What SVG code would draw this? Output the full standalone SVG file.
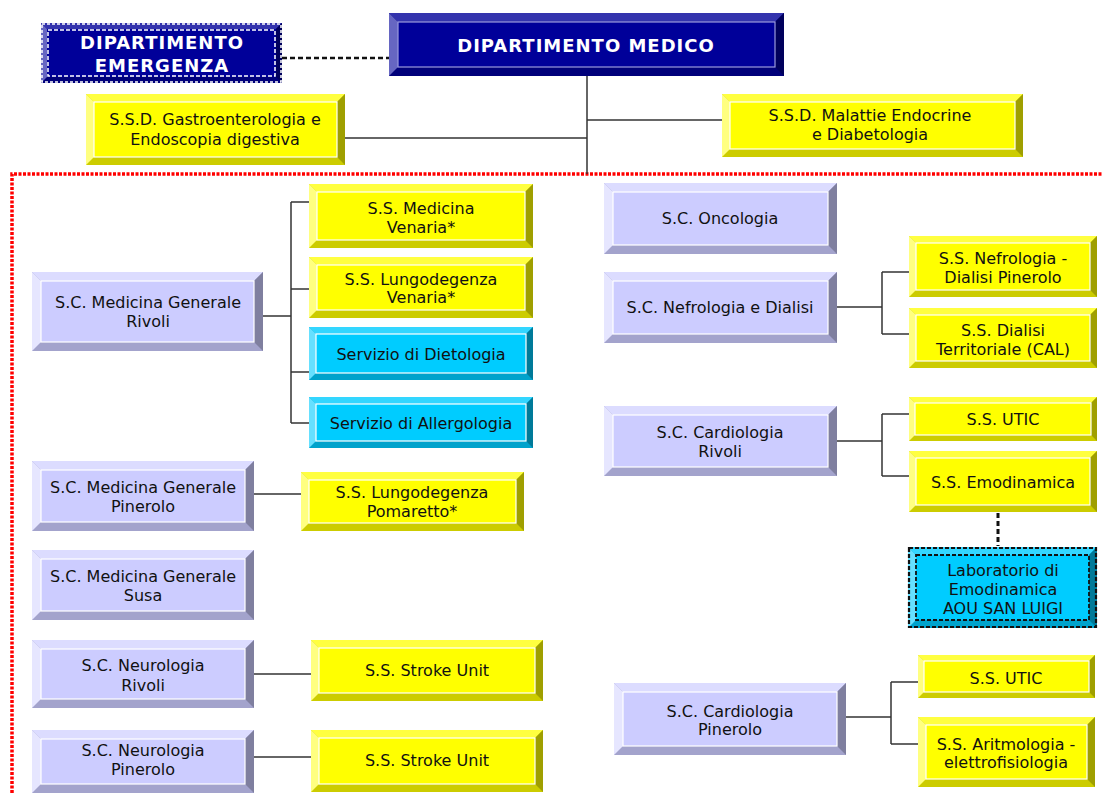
<svg xmlns="http://www.w3.org/2000/svg" width="1103" height="793" viewBox="0 0 1103 793">
<style>
text{font-family:"DejaVu Sans","Verdana",sans-serif;font-size:16px;fill:#111;text-anchor:middle}
text.hd{font-weight:bold;font-size:18px;fill:#fff;letter-spacing:1px}
.fc{stroke:#fff;stroke-width:1.2}
.lav .bo{fill:#A3A3CC}.lav .tp{fill:#DCDCFF}.lav .lf{fill:#E6E6FF}.lav .rt{fill:#7F7F9F}.lav .fc{fill:#CCCCFF}
.yel .bo{fill:#CCCC00}.yel .tp{fill:#FFFF40}.yel .lf{fill:#FFFF80}.yel .rt{fill:#9F9F00}.yel .fc{fill:#FFFF00}
.cya .bo{fill:#00A3CC}.cya .tp{fill:#33D6FF}.cya .lf{fill:#66E0FF}.cya .rt{fill:#007A99}.cya .fc{fill:#00CCFF}
.blu .bo{fill:#00007A}.blu .tp{fill:#3333AD}.blu .lf{fill:#6666C2}.blu .rt{fill:#00005C}.blu .fc{fill:#000099}
.ln{stroke:#333;stroke-width:1.5;fill:none}
.dash{stroke:#111;stroke-width:2.5;stroke-dasharray:5,3;fill:none}
.red{stroke:#FF0000;stroke-width:3.5;stroke-dasharray:3,1.5;fill:none}
</style>

<g id="connectors">
<polyline class="red" points="12,793 12,174 1103,174"/>
<line class="dash" x1="282" y1="58" x2="389" y2="58"/>
<line class="ln" x1="587" y1="76" x2="587" y2="174"/>
<line class="ln" x1="345" y1="138" x2="587" y2="138"/>
<line class="ln" x1="587" y1="120" x2="722" y2="120"/>
<line class="ln" x1="263" y1="316" x2="291" y2="316"/>
<line class="ln" x1="291" y1="202" x2="291" y2="423"/>
<line class="ln" x1="291" y1="202" x2="309" y2="202"/>
<line class="ln" x1="291" y1="289" x2="309" y2="289"/>
<line class="ln" x1="291" y1="372" x2="309" y2="372"/>
<line class="ln" x1="291" y1="423" x2="309" y2="423"/>
<line class="ln" x1="254" y1="494" x2="301" y2="494"/>
<line class="ln" x1="254" y1="674" x2="311" y2="674"/>
<line class="ln" x1="254" y1="757" x2="311" y2="757"/>
<line class="ln" x1="837" y1="307" x2="882" y2="307"/>
<line class="ln" x1="882" y1="272" x2="882" y2="334"/>
<line class="ln" x1="882" y1="272" x2="909" y2="272"/>
<line class="ln" x1="882" y1="334" x2="909" y2="334"/>
<line class="ln" x1="837" y1="441" x2="882" y2="441"/>
<line class="ln" x1="882" y1="414" x2="882" y2="476"/>
<line class="ln" x1="882" y1="414" x2="909" y2="414"/>
<line class="ln" x1="882" y1="476" x2="909" y2="476"/>
<line class="dash" x1="998" y1="513" x2="998" y2="546" style="stroke-width:3"/>
<line class="ln" x1="846" y1="717" x2="891" y2="717"/>
<line class="ln" x1="891" y1="682" x2="891" y2="744"/>
<line class="ln" x1="891" y1="682" x2="918" y2="682"/>
<line class="ln" x1="891" y1="744" x2="918" y2="744"/>
</g>

<g id="dip-emergenza" class="blu">
<rect class="bo" x="41" y="23" width="241" height="60"/>
<polygon class="tp" points="41,23 282,23 276,29 47,29"/>
<polygon class="lf" points="41,23 47,29 47,77 41,83"/>
<polygon class="rt" points="282,23 282,83 276,77 276,29"/>
<rect x="47" y="29" width="229" height="48" fill="#000099"/>
<rect x="42" y="24" width="239" height="58" fill="none" stroke="#fff" stroke-width="1.5" stroke-dasharray="3,2"/>
<rect x="48" y="30" width="227" height="46" fill="none" stroke="#fff" stroke-width="1.5" stroke-dasharray="4,2"/>
<text class="hd" x="162" y="49">DIPARTIMENTO</text>
<text class="hd" x="162" y="72">EMERGENZA</text>
</g>

<g id="dip-medico" class="blu">
<rect class="bo" x="389" y="13" width="395" height="63"/>
<polygon class="tp" points="389,13 784,13 775,22 398,22"/>
<polygon class="lf" points="389,13 398,22 398,67 389,76"/>
<polygon class="rt" points="784,13 784,76 775,67 775,22"/>
<rect class="fc" x="398" y="22" width="377" height="45" style="stroke:#9999dd"/>
<text class="hd" x="586" y="52">DIPARTIMENTO MEDICO</text>
</g>

<g id="gastro" class="yel">
<rect class="bo" x="86" y="94" width="259" height="71"/>
<polygon class="tp" points="86,94 345,94 337,102 94,102"/>
<polygon class="lf" points="86,94 94,102 94,157 86,165"/>
<polygon class="rt" points="345,94 345,165 337,157 337,102"/>
<rect class="fc" x="94" y="102" width="243" height="55"/>
<text x="215" y="125">S.S.D. Gastroenterologia e</text>
<text x="215" y="145">Endoscopia digestiva</text>
</g>

<g id="malattie" class="yel">
<rect class="bo" x="722" y="94" width="301" height="63"/>
<polygon class="tp" points="722,94 1023,94 1015,102 730,102"/>
<polygon class="lf" points="722,94 730,102 730,149 722,157"/>
<polygon class="rt" points="1023,94 1023,157 1015,149 1015,102"/>
<rect class="fc" x="730" y="102" width="285" height="47"/>
<text x="870" y="121">S.S.D. Malattie Endocrine</text>
<text x="870" y="140">e Diabetologia</text>
</g>

<g id="med-venaria" class="yel">
<rect class="bo" x="309" y="184" width="224" height="64"/>
<polygon class="tp" points="309,184 533,184 525,192 317,192"/>
<polygon class="lf" points="309,184 317,192 317,240 309,248"/>
<polygon class="rt" points="533,184 533,248 525,240 525,192"/>
<rect class="fc" x="317" y="192" width="208" height="48"/>
<text x="421" y="214">S.S. Medicina</text>
<text x="421" y="233">Venaria*</text>
</g>

<g id="lung-venaria" class="yel">
<rect class="bo" x="309" y="257" width="224" height="61"/>
<polygon class="tp" points="309,257 533,257 525,265 317,265"/>
<polygon class="lf" points="309,257 317,265 317,310 309,318"/>
<polygon class="rt" points="533,257 533,318 525,310 525,265"/>
<rect class="fc" x="317" y="265" width="208" height="45"/>
<text x="421" y="285">S.S. Lungodegenza</text>
<text x="421" y="303">Venaria*</text>
</g>

<g id="dietologia" class="cya">
<rect class="bo" x="309" y="327" width="224" height="53"/>
<polygon class="tp" points="309,327 533,327 526,334 316,334"/>
<polygon class="lf" points="309,327 316,334 316,373 309,380"/>
<polygon class="rt" points="533,327 533,380 526,373 526,334"/>
<rect class="fc" x="316" y="334" width="210" height="39"/>
<text x="421" y="360">Servizio di Dietologia</text>
</g>

<g id="allergologia" class="cya">
<rect class="bo" x="309" y="397" width="224" height="51"/>
<polygon class="tp" points="309,397 533,397 526,404 316,404"/>
<polygon class="lf" points="309,397 316,404 316,441 309,448"/>
<polygon class="rt" points="533,397 533,448 526,441 526,404"/>
<rect class="fc" x="316" y="404" width="210" height="37"/>
<text x="421" y="429">Servizio di Allergologia</text>
</g>

<g id="medgen-rivoli" class="lav">
<rect class="bo" x="32" y="272" width="231" height="79"/>
<polygon class="tp" points="32,272 263,272 254,281 41,281"/>
<polygon class="lf" points="32,272 41,281 41,342 32,351"/>
<polygon class="rt" points="263,272 263,351 254,342 254,281"/>
<rect class="fc" x="41" y="281" width="213" height="61"/>
<text x="148" y="308">S.C. Medicina Generale</text>
<text x="148" y="327">Rivoli</text>
</g>

<g id="medgen-pinerolo" class="lav">
<rect class="bo" x="32" y="461" width="222" height="70"/>
<polygon class="tp" points="32,461 254,461 245,470 41,470"/>
<polygon class="lf" points="32,461 41,470 41,522 32,531"/>
<polygon class="rt" points="254,461 254,531 245,522 245,470"/>
<rect class="fc" x="41" y="470" width="204" height="52"/>
<text x="143" y="493">S.C. Medicina Generale</text>
<text x="143" y="512">Pinerolo</text>
</g>

<g id="pomaretto" class="yel">
<rect class="bo" x="301" y="472" width="223" height="59"/>
<polygon class="tp" points="301,472 524,472 516,480 309,480"/>
<polygon class="lf" points="301,472 309,480 309,523 301,531"/>
<polygon class="rt" points="524,472 524,531 516,523 516,480"/>
<rect class="fc" x="309" y="480" width="207" height="43"/>
<text x="412" y="498">S.S. Lungodegenza</text>
<text x="412" y="517">Pomaretto*</text>
</g>

<g id="medgen-susa" class="lav">
<rect class="bo" x="32" y="550" width="222" height="70"/>
<polygon class="tp" points="32,550 254,550 245,559 41,559"/>
<polygon class="lf" points="32,550 41,559 41,611 32,620"/>
<polygon class="rt" points="254,550 254,620 245,611 245,559"/>
<rect class="fc" x="41" y="559" width="204" height="52"/>
<text x="143" y="582">S.C. Medicina Generale</text>
<text x="143" y="601">Susa</text>
</g>

<g id="neuro-rivoli" class="lav">
<rect class="bo" x="32" y="640" width="222" height="68"/>
<polygon class="tp" points="32,640 254,640 245,649 41,649"/>
<polygon class="lf" points="32,640 41,649 41,699 32,708"/>
<polygon class="rt" points="254,640 254,708 245,699 245,649"/>
<rect class="fc" x="41" y="649" width="204" height="50"/>
<text x="143" y="671">S.C. Neurologia</text>
<text x="143" y="691">Rivoli</text>
</g>

<g id="stroke-rivoli" class="yel">
<rect class="bo" x="311" y="640" width="232" height="61"/>
<polygon class="tp" points="311,640 543,640 535,648 319,648"/>
<polygon class="lf" points="311,640 319,648 319,693 311,701"/>
<polygon class="rt" points="543,640 543,701 535,693 535,648"/>
<rect class="fc" x="319" y="648" width="216" height="45"/>
<text x="427" y="676">S.S. Stroke Unit</text>
</g>

<g id="neuro-pinerolo" class="lav">
<rect class="bo" x="32" y="730" width="222" height="63"/>
<polygon class="tp" points="32,730 254,730 245,739 41,739"/>
<polygon class="lf" points="32,730 41,739 41,784 32,793"/>
<polygon class="rt" points="254,730 254,793 245,784 245,739"/>
<rect class="fc" x="41" y="739" width="204" height="45"/>
<text x="143" y="756">S.C. Neurologia</text>
<text x="143" y="775">Pinerolo</text>
</g>

<g id="stroke-pinerolo" class="yel">
<rect class="bo" x="311" y="730" width="232" height="62"/>
<polygon class="tp" points="311,730 543,730 535,738 319,738"/>
<polygon class="lf" points="311,730 319,738 319,784 311,792"/>
<polygon class="rt" points="543,730 543,792 535,784 535,738"/>
<rect class="fc" x="319" y="738" width="216" height="46"/>
<text x="427" y="766">S.S. Stroke Unit</text>
</g>

<g id="oncologia" class="lav">
<rect class="bo" x="604" y="183" width="233" height="71"/>
<polygon class="tp" points="604,183 837,183 828,192 613,192"/>
<polygon class="lf" points="604,183 613,192 613,245 604,254"/>
<polygon class="rt" points="837,183 837,254 828,245 828,192"/>
<rect class="fc" x="613" y="192" width="215" height="53"/>
<text x="720" y="224">S.C. Oncologia</text>
</g>

<g id="nefrologia" class="lav">
<rect class="bo" x="604" y="272" width="233" height="71"/>
<polygon class="tp" points="604,272 837,272 828,281 613,281"/>
<polygon class="lf" points="604,272 613,281 613,334 604,343"/>
<polygon class="rt" points="837,272 837,343 828,334 828,281"/>
<rect class="fc" x="613" y="281" width="215" height="53"/>
<text x="720" y="313">S.C. Nefrologia e Dialisi</text>
</g>

<g id="nefro-pinerolo" class="yel">
<rect class="bo" x="909" y="236" width="188" height="61"/>
<polygon class="tp" points="909,236 1097,236 1090,243 916,243"/>
<polygon class="lf" points="909,236 916,243 916,290 909,297"/>
<polygon class="rt" points="1097,236 1097,297 1090,290 1090,243"/>
<rect class="fc" x="916" y="243" width="174" height="47"/>
<text x="1003" y="264">S.S. Nefrologia -</text>
<text x="1003" y="283">Dialisi Pinerolo</text>
</g>

<g id="dialisi-territoriale" class="yel">
<rect class="bo" x="909" y="308" width="188" height="60"/>
<polygon class="tp" points="909,308 1097,308 1090,315 916,315"/>
<polygon class="lf" points="909,308 916,315 916,361 909,368"/>
<polygon class="rt" points="1097,308 1097,368 1090,361 1090,315"/>
<rect class="fc" x="916" y="315" width="174" height="46"/>
<text x="1003" y="336">S.S. Dialisi</text>
<text x="1003" y="355">Territoriale (CAL)</text>
</g>

<g id="cardio-rivoli" class="lav">
<rect class="bo" x="604" y="406" width="233" height="70"/>
<polygon class="tp" points="604,406 837,406 828,415 613,415"/>
<polygon class="lf" points="604,406 613,415 613,467 604,476"/>
<polygon class="rt" points="837,406 837,476 828,467 828,415"/>
<rect class="fc" x="613" y="415" width="215" height="52"/>
<text x="720" y="438">S.C. Cardiologia</text>
<text x="720" y="457">Rivoli</text>
</g>

<g id="utic-rivoli" class="yel">
<rect class="bo" x="909" y="397" width="188" height="44"/>
<polygon class="tp" points="909,397 1097,397 1091,403 915,403"/>
<polygon class="lf" points="909,397 915,403 915,435 909,441"/>
<polygon class="rt" points="1097,397 1097,441 1091,435 1091,403"/>
<rect class="fc" x="915" y="403" width="176" height="32"/>
<text x="1003" y="425">S.S. UTIC</text>
</g>

<g id="emodinamica" class="yel">
<rect class="bo" x="909" y="451" width="188" height="61"/>
<polygon class="tp" points="909,451 1097,451 1090,458 916,458"/>
<polygon class="lf" points="909,451 916,458 916,505 909,512"/>
<polygon class="rt" points="1097,451 1097,512 1090,505 1090,458"/>
<rect class="fc" x="916" y="458" width="174" height="47"/>
<text x="1003" y="488">S.S. Emodinamica</text>
</g>

<g id="laboratorio" class="cya">
<rect class="bo" x="908" y="547" width="189" height="81"/>
<polygon class="tp" points="908,547 1097,547 1089,555 916,555"/>
<polygon class="lf" points="908,547 916,555 916,620 908,628"/>
<polygon class="rt" points="1097,547 1097,628 1089,620 1089,555"/>
<rect x="916" y="555" width="173" height="65" fill="#00CCFF"/>
<rect x="909" y="548" width="187" height="79" fill="none" stroke="#111" stroke-width="2.2" stroke-dasharray="4,2"/>
<rect x="916" y="555" width="173" height="65" fill="none" stroke="#111" stroke-width="1.8" stroke-dasharray="4,2"/>
<text x="1003" y="576">Laboratorio di</text>
<text x="1003" y="595">Emodinamica</text>
<text x="1003" y="614">AOU SAN LUIGI</text>
</g>

<g id="cardio-pinerolo" class="lav">
<rect class="bo" x="614" y="683" width="232" height="72"/>
<polygon class="tp" points="614,683 846,683 837,692 623,692"/>
<polygon class="lf" points="614,683 623,692 623,746 614,755"/>
<polygon class="rt" points="846,683 846,755 837,746 837,692"/>
<rect class="fc" x="623" y="692" width="214" height="54"/>
<text x="730" y="717">S.C. Cardiologia</text>
<text x="730" y="735">Pinerolo</text>
</g>

<g id="utic-pinerolo" class="yel">
<rect class="bo" x="918" y="655" width="177" height="43"/>
<polygon class="tp" points="918,655 1095,655 1089,661 924,661"/>
<polygon class="lf" points="918,655 924,661 924,692 918,698"/>
<polygon class="rt" points="1095,655 1095,698 1089,692 1089,661"/>
<rect class="fc" x="924" y="661" width="165" height="31"/>
<text x="1006" y="684">S.S. UTIC</text>
</g>

<g id="aritmologia" class="yel">
<rect class="bo" x="918" y="717" width="177" height="70"/>
<polygon class="tp" points="918,717 1095,717 1087,725 926,725"/>
<polygon class="lf" points="918,717 926,725 926,779 918,787"/>
<polygon class="rt" points="1095,717 1095,787 1087,779 1087,725"/>
<rect class="fc" x="926" y="725" width="161" height="54"/>
<text x="1006" y="750">S.S. Aritmologia -</text>
<text x="1006" y="768">elettrofisiologia</text>
</g>
</svg>
